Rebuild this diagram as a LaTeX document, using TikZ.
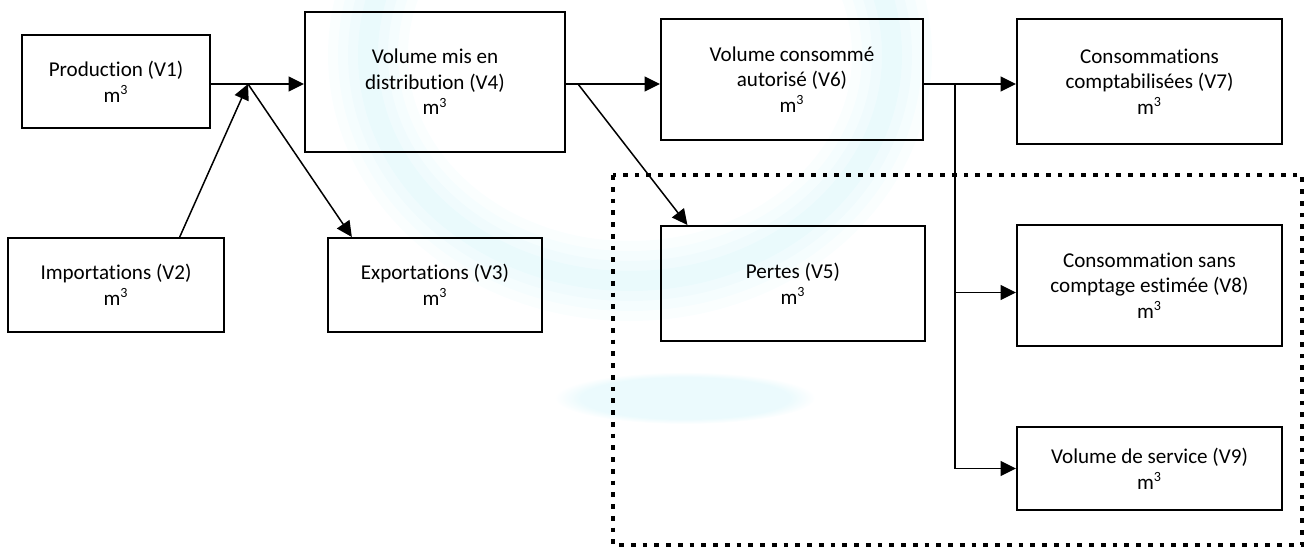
\documentclass[tikz,border=0pt]{standalone}
\usepackage{fontspec}
\setmainfont{Carlito}[Ligatures=NoCommon]
\usetikzlibrary{arrows.meta,fadings}
\definecolor{wmark}{HTML}{BDEFF7}
\newcommand{\cube}{m\textsuperscript{3}}

\begin{document}
\begin{tikzpicture}[x=0.2mm, y=-0.2mm, >={Triangle[length=3.1mm,width=3mm]},
    box/.style={draw, line width=0.4mm, align=center, inner sep=0pt,
        font=\fontsize{12}{14.6}\selectfont},
    flow/.style={line width=0.3mm},
    zone/.style={line width=0.95mm, dash pattern=on 0.95mm off 1.4mm}]

    \useasboundingbox (0,0) rectangle (1306,549);

    \foreach \w/\o in {16/0.07, 12/0.08, 8/0.1, 4/0.12}
        \draw[wmark, opacity=\o, line width=\w mm] (630,55) ellipse [x radius=262, y radius=226];
    \fill[wmark, opacity=0.3, path fading=circle with fuzzy edge 20 percent] (685,398) ellipse [x radius=130, y radius=26];

    \draw(116,81.5) node[box, minimum width=37.6mm, minimum height=18.6mm] (V1) {Production (V1)\\\cube};
    \draw(116,285) node[box, minimum width=43.2mm, minimum height=18.8mm] (V2) {Importations (V2)\\\cube};
    \draw(435,285) node[box, minimum width=42.8mm, minimum height=18.8mm] (V3) {Exportations (V3)\\\cube};
    \draw(435,82) node[box, minimum width=52mm, minimum height=28mm] (V4) {Volume mis en\\distribution (V4)\\\cube};
    \draw(793,283.5) node[box, minimum width=52.8mm, minimum height=23mm] (V5) {Pertes (V5)\\\cube};
    \draw(792,79.5) node[box, minimum width=52.4mm, minimum height=24.2mm] (V6) {Volume consommé\\autorisé (V6)\\\cube};
    \draw(1149.5,81.5) node[box, minimum width=53mm, minimum height=25mm] (V7) {Consommations\\comptabilisées (V7)\\\cube};
    \draw(1149.5,285.5) node[box, minimum width=53mm, minimum height=24.2mm] (V8) {Consommation sans\\comptage estimée (V8)\\\cube};
    \draw(1149.5,468.5) node[box, minimum width=53mm, minimum height=16.6mm] (V9) {Volume de service (V9)\\\cube};

    \draw[zone] (613,175) rectangle (1302,545);

    \coordinate (J1) at (248,84);
    \coordinate (J2) at (578,84);
    \coordinate (J3) at (955,84);
    \coordinate (B8) at ([yshift=-1.4mm]V8.west);

    \draw[flow, ->] (V1.east |- J1) -- (V4.west |- J1);
    \draw[flow, ->] (V2.37) -- (J1);
    \draw[flow, ->] (J1) -- (V3.150);
    \draw[flow, ->] (V4.east |- J2) -- (V6.west |- J2);
    \draw[flow, ->] (J2) -- (V5.151);
    \draw[flow, ->] (V6.east |- J3) -- (V7.west |- J3);
    \draw[flow, ->] (J3 |- B8) -- (B8);
    \draw[flow, ->] (J3) |- (V9.west);

\end{tikzpicture}
\end{document}
